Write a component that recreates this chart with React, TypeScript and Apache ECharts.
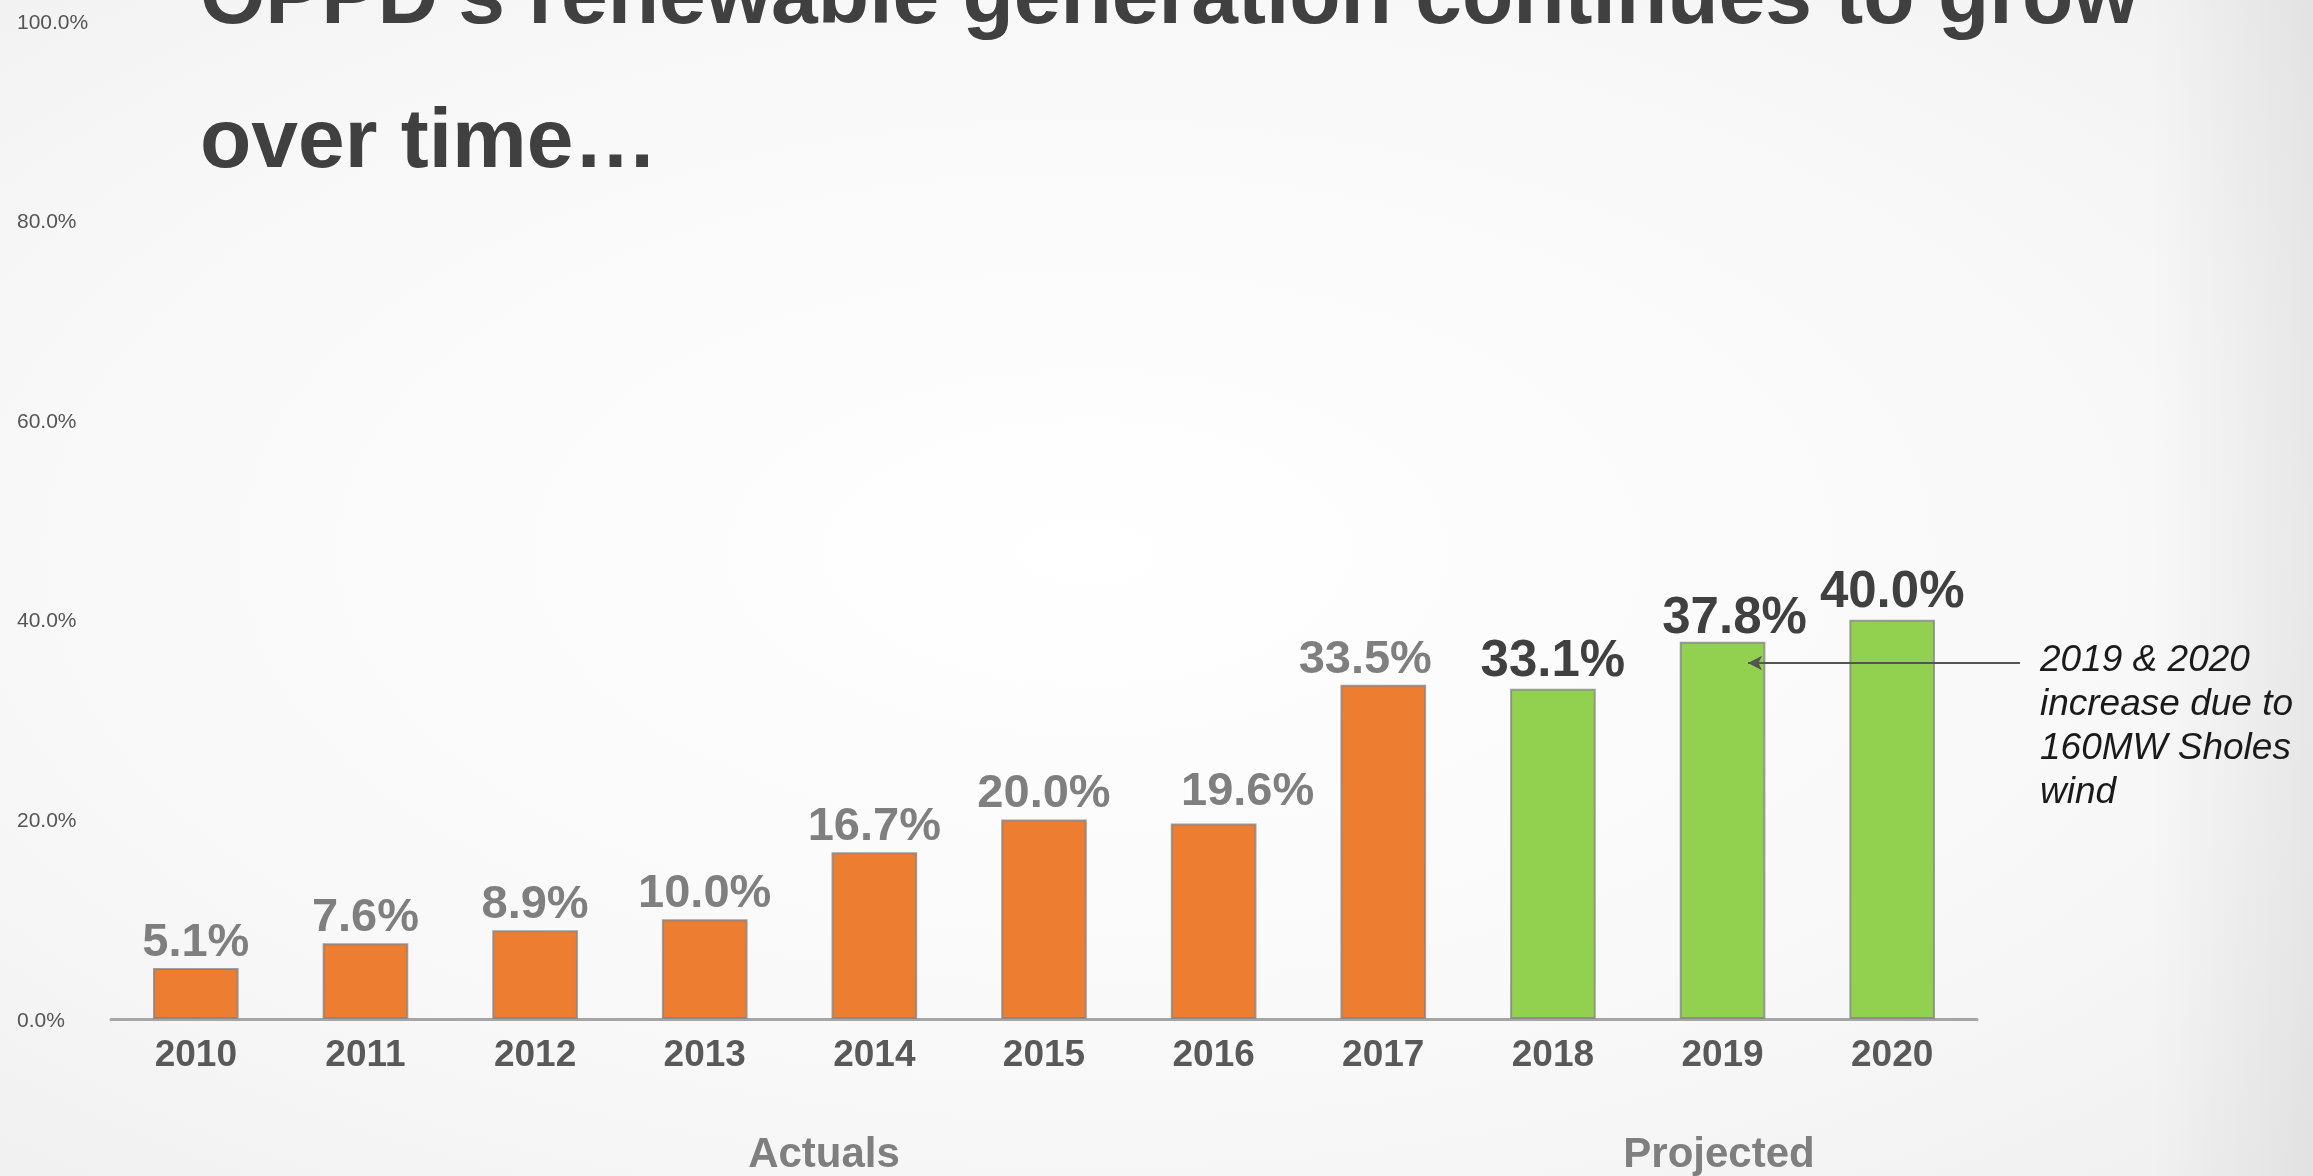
import React, { useEffect, useRef } from "react";
import * as echarts from "echarts";

const years = ["2010", "2011", "2012", "2013", "2014", "2015", "2016", "2017", "2018", "2019", "2020"];
const shares = [5.1, 7.6, 8.9, 10.0, 16.7, 20.0, 19.6, 33.5, 33.1, 37.8, 40.0];
const status = ["actual", "actual", "actual", "actual", "actual", "actual", "actual", "actual", "projected", "projected", "projected"];
const yMin = 0;
const yMax = 100;
const yStep = 20;
const titleLines = ["OPPD\u2019s renewable generation continues to grow", "over time\u2026"];
const groupLabels = ["Actuals", "Projected"];
const noteLines = ["2019 & 2020", "increase due to", "160MW Sholes", "wind"];

// label placement nudges (style only), keyed by year
const labelNudge: Record<string, [number, number]> = {
  "2016": [34, -6],
  "2017": [-18, 0],
  "2019": [12, 4],
};

const FONT = "'Liberation Sans', Arial, Helvetica, sans-serif";
const ORANGE = "#ED7D31";
const GREEN = "#92D050";

export default function App() {
  const ref = useRef<HTMLDivElement>(null);

  useEffect(() => {
    if (!ref.current) return;
    const chart = echarts.init(ref.current, undefined, { renderer: "svg" });

    const data = shares.map((v, i) => {
      const proj = status[i] === "projected";
      return {
        value: v,
        itemStyle: { color: proj ? GREEN : ORANGE },
        label: {
          color: proj ? "#404040" : "#7F7F7F",
          fontSize: proj ? 51 : 47,
          offset: labelNudge[years[i]] || [0, 0],
        },
      };
    });

    const option: any = {
      animation: false,
      backgroundColor: "transparent",
      grid: { left: 111, right: 336, top: 21, bottom: 157, containLabel: false },
      xAxis: {
        type: "category",
        data: years,
        axisLine: { show: true, lineStyle: { color: "#A6A6A6", width: 3 } },
        axisTick: { show: false },
        axisLabel: {
          margin: 16,
          fontFamily: FONT,
          fontWeight: "bold",
          fontSize: 37,
          color: "#595959",
        },
        splitLine: { show: false },
      },
      yAxis: {
        type: "value",
        min: yMin,
        max: yMax,
        interval: yStep,
        axisLine: { show: false },
        axisTick: { show: false },
        splitLine: { show: false },
        axisLabel: {
          align: "left",
          margin: 94,
          fontFamily: FONT,
          fontSize: 21,
          color: "#555555",
          formatter: (v: number) => v.toFixed(1) + "%",
        },
      },
      series: [
        {
          type: "bar",
          data,
          barWidth: "50.5%",
          itemStyle: { borderColor: "rgba(130,130,130,0.75)", borderWidth: 2 },
          label: {
            show: true,
            position: "top",
            distance: 5,
            fontFamily: FONT,
            fontWeight: "bold",
            formatter: (p: any) => Number(p.value).toFixed(1) + "%",
          },
          markLine: {
            silent: true,
            symbol: ["none", "arrow"],
            symbolSize: [11, 14],
            label: { show: false },
            lineStyle: { color: "#555555", width: 2, type: "solid" },
            data: [[{ x: 2020, y: 663 }, { x: 1748, y: 663 }]],
          },
        },
      ],
      graphic: [
        {
          type: "rect",
          z: -10,
          silent: true,
          shape: { x: 0, y: 0, width: 2313, height: 1176 },
          style: {
            fill: {
              type: "radial",
              x: 0.47,
              y: 0.47,
              r: 1.05,
              colorStops: [
                { offset: 0, color: "#FFFFFF" },
                { offset: 0.45, color: "#F8F8F8" },
                { offset: 1, color: "#E6E6E6" },
              ],
            },
          },
        },
        {
          type: "rect",
          z: -9,
          silent: true,
          shape: { x: 2150, y: 0, width: 163, height: 1176 },
          style: {
            fill: {
              type: "linear",
              x: 0,
              y: 0,
              x2: 1,
              y2: 0,
              colorStops: [
                { offset: 0, color: "rgba(0,0,0,0)" },
                { offset: 1, color: "rgba(0,0,0,0.06)" },
              ],
            },
          },
        },
        ...titleLines.map((t, i) => ({
          type: "text",
          z: 10,
          x: 200,
          y: -6 + i * 144,
          style: {
            text: t,
            fontFamily: FONT,
            fontWeight: "bold",
            fontSize: 84,
            fill: "#404040",
            align: "left",
            verticalAlign: "middle",
          },
        })),
        ...groupLabels.map((t, i) => ({
          type: "text",
          z: 10,
          x: i === 0 ? 824 : 1719,
          y: 1152,
          style: {
            text: t,
            fontFamily: FONT,
            fontWeight: "bold",
            fontSize: 42,
            fill: "#7F7F7F",
            align: "center",
            verticalAlign: "middle",
          },
        })),
        ...noteLines.map((t, i) => ({
          type: "text",
          z: 10,
          x: 2040,
          y: 658 + i * 44,
          style: {
            text: t,
            fontFamily: FONT,
            fontStyle: "italic",
            fontSize: 37,
            fill: "#1A1A1A",
            align: "left",
            verticalAlign: "middle",
          },
        })),
      ],
    };

    chart.setOption(option);
    return () => chart.dispose();
  }, []);

  return (
    <div
      ref={ref}
      style={{ position: "fixed", left: 0, top: 0, width: 2313, height: 1176 }}
    />
  );
}
